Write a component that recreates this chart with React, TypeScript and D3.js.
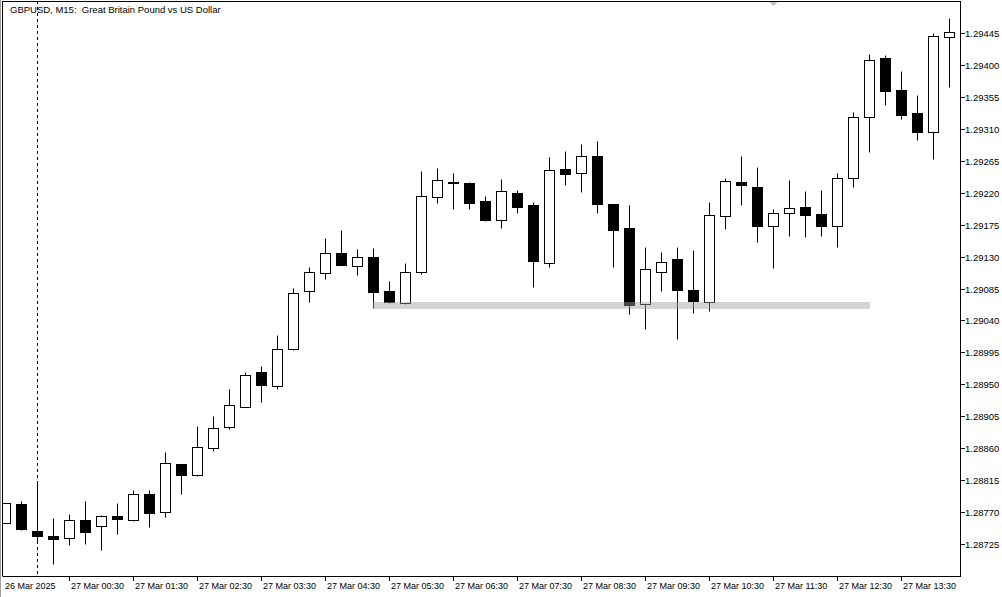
import React from "react";
import * as d3 from "d3";

const opens = [1.28755,1.28781,1.28743,1.28736,1.28734,1.28759,1.28750,1.28765,1.28759,1.28796,
1.28770,1.28838,1.28822,1.28860,1.28890,1.28918,1.28967,1.28948,1.29000,1.29081,
1.29107,1.29135,1.29117,1.29129,1.29081,1.29065,1.29108,1.29214,1.29235,1.29234,
1.29208,1.29182,1.29220,1.29203,1.29121,1.29253,1.29248,1.29272,1.29204,1.29170,
1.29063,1.29108,1.29127,1.29083,1.29066,1.29187,1.29235,1.29228,1.29173,1.29191,
1.29200,1.29190,1.29173,1.29241,1.29327,1.29410,1.29365,1.29332,1.29306,1.29439];

const highs = [1.28783,1.28786,1.28812,1.28762,1.28767,1.28786,1.28766,1.28783,1.28801,1.28801,
1.28855,1.28838,1.28891,1.28905,1.28943,1.28967,1.28976,1.29020,1.29086,1.29115,
1.29156,1.29167,1.29141,1.29142,1.29096,1.29121,1.29251,1.29255,1.29248,1.29235,
1.29215,1.29239,1.29224,1.29207,1.29270,1.29279,1.29289,1.29293,1.29204,1.29203,
1.29143,1.29136,1.29143,1.29139,1.29207,1.29241,1.29272,1.29256,1.29197,1.29238,
1.29222,1.29224,1.29248,1.29334,1.29415,1.29414,1.29391,1.29358,1.29445,1.29466];

const lows = [1.28755,1.28745,1.28729,1.28697,1.28724,1.28725,1.28717,1.28739,1.28757,1.28749,
1.28763,1.28796,1.28821,1.28856,1.28887,1.28918,1.28925,1.28943,1.28998,1.29066,
1.29098,1.29118,1.29104,1.29058,1.29065,1.29063,1.29105,1.29205,1.29197,1.29197,
1.29180,1.29170,1.29191,1.29087,1.29115,1.29231,1.29221,1.29191,1.29115,1.29049,
1.29028,1.29081,1.29014,1.29051,1.29053,1.29169,1.29203,1.29151,1.29114,1.29159,
1.29158,1.29159,1.29143,1.29228,1.29277,1.29344,1.29324,1.29294,1.29268,1.29369];

const closes = [1.28783,1.28746,1.28736,1.28732,1.28759,1.28742,1.28765,1.28760,1.28796,1.28769,
1.28839,1.28822,1.28862,1.28888,1.28921,1.28963,1.28949,1.29000,1.29079,1.29108,
1.29135,1.29118,1.29129,1.29080,1.29066,1.29108,1.29215,1.29238,1.29234,1.29205,
1.29182,1.29222,1.29200,1.29124,1.29252,1.29246,1.29272,1.29204,1.29167,1.29062,
1.29113,1.29122,1.29083,1.29067,1.29189,1.29236,1.29231,1.29173,1.29191,1.29198,
1.29189,1.29173,1.29241,1.29327,1.29407,1.29363,1.29329,1.29306,1.29441,1.29446];

const yTicks = [1.28725,1.28770,1.28815,1.28860,1.28905,1.28950,1.28995,1.29040,1.29085,
1.29130,1.29175,1.29220,1.29265,1.29310,1.29355,1.29400,1.29445];

const xTickIndices = [0,4,8,12,16,20,24,28,32,36,40,44,48,52,56];
const xTickLabels = ["26 Mar 2025","27 Mar 00:30","27 Mar 01:30","27 Mar 02:30","27 Mar 03:30",
"27 Mar 04:30","27 Mar 05:30","27 Mar 06:30","27 Mar 07:30","27 Mar 08:30","27 Mar 09:30",
"27 Mar 10:30","27 Mar 11:30","27 Mar 12:30","27 Mar 13:30"];

const title = "GBPUSD, M15:  Great Britain Pound vs US Dollar";

// support zone rectangle: from candle index to candle index, price range
const zoneStart = 23;
const zoneEnd = 54;
const zoneTop = 1.29066;
const zoneBottom = 1.29056;

const dayBreakIndex = 2;
const markerIndex = 48;

const W = 1002, H = 597;
const plotLeft = 3, plotRight = 960, plotTop = 1, plotBottom = 576;
const FONT = "'Liberation Sans', Arial, sans-serif";

export default function App() {
  const y = d3.scaleLinear().domain([1.28725, 1.29445]).range([544, 33]);
  const x = d3.scaleLinear().domain([0, 59]).range([5, 949]); // pixel column of candle centre
  const py = (v: number) => Math.round(y(v)) + 0.5;
  const px = (i: number) => Math.round(x(i)) + 0.5;

  const n = opens.length;
  const candles = d3.range(n).map((i) => ({
    i, o: opens[i], h: highs[i], l: lows[i], c: closes[i],
  }));

  return (
    <svg width={W} height={H} style={{ position: "fixed", left: 0, top: 0, background: "#fff" }}
      fontFamily={FONT}>
      <defs>
        <clipPath id="plot">
          <rect x={plotLeft} y={plotTop + 1} width={plotRight - plotLeft} height={plotBottom - plotTop - 1} />
        </clipPath>
      </defs>
      <rect x={0} y={0} width={W} height={H} fill="#fff" />
      <g clipPath="url(#plot)">
        {/* day separator */}
        <line x1={px(dayBreakIndex)} x2={px(dayBreakIndex)} y1={plotTop} y2={plotBottom}
          stroke="#000" strokeDasharray="3,3" />
        {candles.map((d) => {
          const cx = px(d.i);
          const bull = d.c >= d.o;
          const top = py(Math.max(d.o, d.c));
          const bot = py(Math.min(d.o, d.c));
          return (
            <g key={d.i}>
              <line x1={cx} x2={cx} y1={py(d.h)} y2={py(d.l)} stroke="#000" strokeWidth={1} />
              {bot - top < 1 ? (
                <line x1={cx - 5} x2={cx + 5} y1={top} y2={top} stroke="#000" />
              ) : (
                <rect x={cx - 5} y={top} width={10} height={bot - top}
                  fill={bull ? "#fff" : "#000"} stroke="#000" strokeWidth={1} />
              )}
            </g>
          );
        })}
        {/* zone */}
        <rect x={px(zoneStart) - 0.5} y={Math.round(y(zoneTop))} width={px(zoneEnd) - px(zoneStart) + 1}
          height={Math.round(y(zoneBottom)) - Math.round(y(zoneTop))}
          fill="#a0a0a0" fillOpacity={0.45} />
      </g>
      {/* frame */}
      <line x1={0.5} x2={0.5} y1={0} y2={H} stroke="#a0a0a0" />
      <line x1={2.5} x2={2.5} y1={plotTop} y2={plotBottom} stroke="#000" />
      <line x1={2.5} x2={plotRight + 0.5} y1={plotTop + 0.5} y2={plotTop + 0.5} stroke="#000" />
      <line x1={plotRight + 0.5} x2={plotRight + 0.5} y1={plotTop} y2={plotBottom + 1} stroke="#000" />
      <line x1={2.5} x2={plotRight + 0.5} y1={plotBottom + 0.5} y2={plotBottom + 0.5} stroke="#000" />
      {/* shift marker */}
      <path d={`M${px(markerIndex) - 4},${plotTop + 1} L${px(markerIndex) + 4},${plotTop + 1} L${px(markerIndex)},${plotTop + 5} Z`}
        fill="#c0c0c0" />
      {/* title */}
      <text x={10} y={13} fontSize={9.5} fill="#000" style={{ whiteSpace: "pre" }}>{title}</text>
      {/* y axis */}
      {yTicks.map((t) => (
        <g key={t}>
          <line x1={plotRight + 1} x2={plotRight + 5} y1={py(t)} y2={py(t)} stroke="#000" />
          <text x={plotRight + 5} y={py(t) + 3.4} fontSize={9.5} fill="#000">{t.toFixed(5)}</text>
        </g>
      ))}
      {/* x axis */}
      {xTickIndices.map((idx, k) => (
        <g key={idx}>
          {k > 0 && <line x1={px(idx)} x2={px(idx)} y1={plotBottom} y2={plotBottom + 5} stroke="#000" />}
          <text x={k === 0 ? 5 : px(idx) + 1.5} y={589} fontSize={9} fill="#000">{xTickLabels[k]}</text>
        </g>
      ))}
    </svg>
  );
}
